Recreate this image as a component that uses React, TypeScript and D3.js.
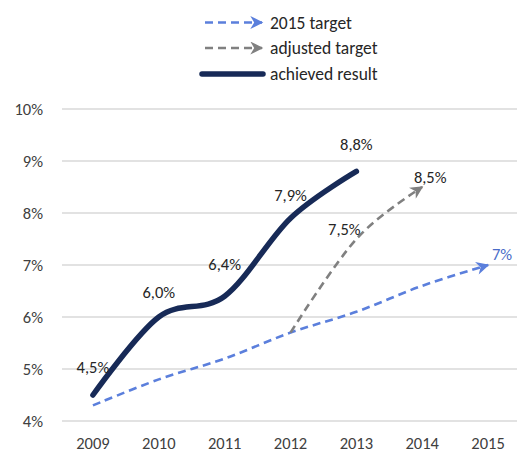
import React, { useEffect, useRef } from 'react';
import * as d3 from 'd3';

const years = ['2009', '2010', '2011', '2012', '2013', '2014', '2015'];
const yTicks = [0.04, 0.05, 0.06, 0.07, 0.08, 0.09, 0.1];

const target2015 = [4.3, 4.8, 5.2, 5.7, 6.1, 6.6, 7.0];
const adjustedYears = ['2012', '2013', '2014'];
const adjusted = [5.7, 7.5, 8.5];
const achievedYears = ['2009', '2010', '2011', '2012', '2013'];
const achieved = [4.5, 6.0, 6.4, 7.9, 8.8];

const achievedLabels = ['4,5%', '6,0%', '6,4%', '7,9%', '8,8%'];
const adjustedLabels = ['', '7,5%', '8,5%'];
const targetLabel = '7%';

const legendNames = ['2015 target', 'adjusted target', 'achieved result'];

const W = 517;
const H = 453;
const FONT = 'Carlito, Lato, "Open Sans", sans-serif';

const BLUE = '#5b7fdc';
const GRAY = '#808080';
const NAVY = '#172a57';

export default function App() {
  const svgRef = useRef<SVGSVGElement | null>(null);

  useEffect(() => {
    if (!svgRef.current) return;
    const svg = d3.select(svgRef.current);
    svg.selectAll('*').remove();

    const x = d3.scaleBand().domain(years).range([60, 521]);
    const cx = (yr: string) => (x(yr) || 0) + x.bandwidth() / 2;
    const y = d3.scaleLinear().domain([4, 10]).range([421, 109]);

    const defs = svg.append('defs');
    const mk = (id: string, color: string) =>
      defs
        .append('marker')
        .attr('id', id)
        .attr('viewBox', '0 0 10 10')
        .attr('refX', 9)
        .attr('refY', 5)
        .attr('markerWidth', 5.4)
        .attr('markerHeight', 5)
        .attr('markerUnits', 'strokeWidth')
        .attr('orient', 'auto')
        .append('path')
        .attr('d', 'M0,0 L10,5 L0,10 L3,5 Z')
        .attr('fill', color);
    mk('arrBlue', BLUE);
    mk('arrGray', GRAY);

    // gridlines
    svg
      .append('g')
      .selectAll('line')
      .data(yTicks)
      .enter()
      .append('line')
      .attr('x1', 62)
      .attr('x2', W)
      .attr('y1', (d) => y(d * 100))
      .attr('y2', (d) => y(d * 100))
      .attr('stroke', '#d9d9d9')
      .attr('stroke-width', 1.3);

    // y labels
    svg
      .append('g')
      .selectAll('text')
      .data(yTicks)
      .enter()
      .append('text')
      .attr('x', 43)
      .attr('y', (d) => y(d * 100))
      .attr('dy', '0.35em')
      .attr('text-anchor', 'end')
      .attr('font-family', FONT)
      .attr('font-size', 16.5)
      .attr('fill', '#404040')
      .text((d) => d3.format('.0%')(d));

    // x labels
    svg
      .append('g')
      .selectAll('text')
      .data(years)
      .enter()
      .append('text')
      .attr('x', (d) => cx(d))
      .attr('y', 443)
      .attr('dy', '0.35em')
      .attr('text-anchor', 'middle')
      .attr('font-family', FONT)
      .attr('font-size', 16.5)
      .attr('fill', '#404040')
      .text((d) => d);

    const curve = d3.curveCardinal.tension(0);

    const line = d3
      .line<[string, number]>()
      .x((d) => cx(d[0]))
      .y((d) => y(d[1]))
      .curve(curve);

    svg
      .append('path')
      .attr('d', line(years.map((yr, i) => [yr, target2015[i]] as [string, number])))
      .attr('fill', 'none')
      .attr('stroke', BLUE)
      .attr('stroke-width', 2.6)
      .attr('stroke-dasharray', '8,5')
      .attr('marker-end', 'url(#arrBlue)');

    svg
      .append('path')
      .attr('d', line(adjustedYears.map((yr, i) => [yr, adjusted[i]] as [string, number])))
      .attr('fill', 'none')
      .attr('stroke', GRAY)
      .attr('stroke-width', 2.6)
      .attr('stroke-dasharray', '8,5')
      .attr('marker-end', 'url(#arrGray)');

    svg
      .append('path')
      .attr('d', line(achievedYears.map((yr, i) => [yr, achieved[i]] as [string, number])))
      .attr('fill', 'none')
      .attr('stroke', NAVY)
      .attr('stroke-width', 5.5)
      .attr('stroke-linecap', 'round');

    // data labels
    const lbl = (xx: number, yy: number, t: string, color = '#262626') =>
      svg
        .append('text')
        .attr('x', xx)
        .attr('y', yy)
        .attr('dy', '0.35em')
        .attr('text-anchor', 'middle')
        .attr('font-family', FONT)
        .attr('font-size', 16.5)
        .attr('fill', color)
        .text(t);

    const achievedOffsets = [-28, -25, -32, -23, -27];
    achievedYears.forEach((yr, i) => lbl(cx(yr), y(achieved[i]) + achievedOffsets[i], achievedLabels[i]));
    lbl(cx('2013') - 12, y(adjusted[1]) - 10, adjustedLabels[1]);
    lbl(cx('2014') + 8, y(adjusted[2]) - 10, adjustedLabels[2]);
    lbl(cx('2015') + 14, y(target2015[6]) - 11, targetLabel, '#4a6bc8');

    // legend
    const lg = svg.append('g');
    const rows = [
      { c: BLUE, dash: '8,5', w: 2.6, m: 'url(#arrBlue)', y: 22.5 },
      { c: GRAY, dash: '8,5', w: 2.6, m: 'url(#arrGray)', y: 48 },
      { c: NAVY, dash: null, w: 5.5, m: null, y: 74 },
    ];
    rows.forEach((r, i) => {
      const ln = lg
        .append('line')
        .attr('x1', i === 2 ? 202 : 205)
        .attr('x2', i === 2 ? 263 : 262)
        .attr('y1', r.y)
        .attr('y2', r.y)
        .attr('stroke', r.c)
        .attr('stroke-width', r.w);
      if (r.dash) ln.attr('stroke-dasharray', r.dash);
      if (r.m) ln.attr('marker-end', r.m);
      else ln.attr('stroke-linecap', 'round');
      lg.append('text')
        .attr('x', 270)
        .attr('y', r.y)
        .attr('dy', '0.35em')
        .attr('font-family', FONT)
        .attr('font-size', 17.5)
        .attr('fill', '#262626')
        .text(legendNames[i]);
    });
  }, []);

  return (
    <svg
      ref={svgRef}
      width={W}
      height={H}
      style={{ position: 'absolute', left: 0, top: 0, background: '#fff' }}
    />
  );
}
